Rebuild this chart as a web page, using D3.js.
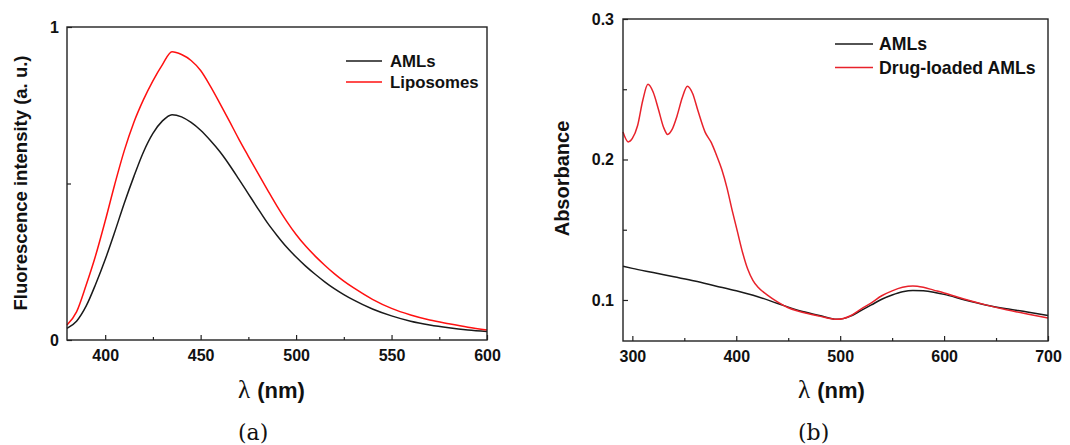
<!DOCTYPE html>
<html><head><meta charset="utf-8">
<script src="https://cdn.jsdelivr.net/npm/d3@7"></script>
<style>
html,body{margin:0;padding:0;background:#fff;}
</style></head>
<body><svg id="c" width="1070" height="445" font-family="'Liberation Sans',Arial,sans-serif"></svg>
<script>
// ---- Panel (a): fluorescence ----
const flWavelength = [380,385,390,395,400,405,410,415,420,425,430,435,440,445,450,455,460,465,470,475,480,485,490,495,500,505,510,515,520,525,530,540,550,560,570,580,590,600];
const flAMLs = [0.037,0.060,0.108,0.178,0.257,0.345,0.437,0.522,0.600,0.660,0.700,0.720,0.713,0.695,0.670,0.638,0.602,0.560,0.514,0.467,0.420,0.374,0.334,0.297,0.265,0.236,0.210,0.186,0.164,0.145,0.128,0.099,0.077,0.060,0.048,0.039,0.032,0.027];
const flLiposomes = [0.048,0.090,0.175,0.270,0.380,0.497,0.605,0.695,0.767,0.828,0.880,0.921,0.912,0.893,0.861,0.812,0.757,0.700,0.642,0.587,0.533,0.480,0.428,0.380,0.337,0.300,0.268,0.239,0.212,0.188,0.167,0.130,0.101,0.080,0.064,0.052,0.041,0.032];
const flXTicks = [400,450,500,550,600];
const flXMinor = [425,475,525,575];
const flYTicks = [0,1];
const flYMinor = [0.5];
const flLegend = ["AMLs","Liposomes"];

// ---- Panel (b): absorbance ----
const abWlAMLs = [291,300,320,340,360,380,400,420,440,460,480,497,510,520,530,540,550,560,570,580,590,600,620,640,660,680,700];
const abAMLs = [0.1240,0.1225,0.1195,0.1165,0.1135,0.1100,0.1065,0.1025,0.0975,0.0925,0.0890,0.0862,0.0885,0.0925,0.0965,0.1005,0.1035,0.1058,0.1068,0.1065,0.1055,0.1040,0.1000,0.0965,0.0938,0.0915,0.0890];
const abWlDrug = [291,296,300,305,310,315,320,325,330,334,338,343,348,353,358,363,370,376,381,386,391,396,401,406,411,416,421,430,440,450,460,480,497,510,520,530,540,550,560,570,580,590,600,620,640,660,680,700];
const abDrug = [0.2195,0.2125,0.2150,0.2240,0.2420,0.2535,0.2480,0.2360,0.2230,0.2178,0.2210,0.2310,0.2440,0.2522,0.2470,0.2350,0.2195,0.2120,0.2030,0.1930,0.1800,0.1640,0.1490,0.1340,0.1220,0.1140,0.1090,0.1035,0.0985,0.0945,0.0920,0.0885,0.0862,0.0888,0.0935,0.0980,0.1030,0.1065,0.1090,0.1100,0.1090,0.1070,0.1050,0.1005,0.0965,0.0930,0.0900,0.0872];
const abXTicks = [300,400,500,600,700];
const abXMinor = [350,450,550,650];
const abYTicks = [0.1,0.2,0.3];
const abYMinor = [0.15,0.25];
const abLegend = ["AMLs","Drug-loaded AMLs"];

const svg = d3.select("#c");
const SANS = "'Liberation Sans',Arial,sans-serif";
const SERIF = "'DejaVu Serif','Liberation Serif',serif";

function panel(o){
  const g = svg.append("g");
  const x = d3.scaleLinear().domain(o.xd).range([o.l,o.r]);
  const y = d3.scaleLinear().domain(o.yd).range([o.b,o.t]);
  const axisCol = "#222";
  g.append("g").attr("transform",`translate(0,${o.b})`)
    .call(d3.axisBottom(x).tickValues(o.xt).tickSizeInner(-5).tickSizeOuter(0).tickPadding(o.xpad).tickFormat(d3.format("d")));
  g.append("g").attr("transform",`translate(0,${o.b})`)
    .call(d3.axisBottom(x).tickValues(o.xm).tickSizeInner(-3).tickSizeOuter(0).tickFormat(""));
  g.append("g").attr("transform",`translate(${o.l},0)`)
    .call(d3.axisLeft(y).tickValues(o.yt).tickSizeInner(-5).tickSizeOuter(0).tickPadding(o.ypad).tickFormat(o.yf));
  g.append("g").attr("transform",`translate(${o.l},0)`)
    .call(d3.axisLeft(y).tickValues(o.ym).tickSizeInner(-4).tickSizeOuter(0).tickFormat(""));
  g.selectAll(".domain").remove();
  g.selectAll("g").attr("font-family",null).attr("font-size",null);
  g.selectAll(".tick line").attr("stroke",axisCol).attr("stroke-width",1.2);
  g.selectAll(".tick text").style("font-family",SANS).style("font-size","16px").style("font-weight","bold").attr("fill","#111");
  const line = d3.line().x(d=>x(d[0])).y(d=>y(d[1])).curve(d3.curveMonotoneX);
  o.series.forEach(s=>{
    g.append("path").datum(d3.zip(s.x,s.y)).attr("d",line)
      .attr("fill","none").attr("stroke",s.c).attr("stroke-width",1.5);
  });
  g.append("rect").attr("x",o.l).attr("y",o.t).attr("width",o.r-o.l).attr("height",o.b-o.t)
    .attr("fill","none").attr("stroke",axisCol).attr("stroke-width",1.4);
  o.series.forEach((s,i)=>{
    const ly0 = o.leg.y + i*o.leg.dy;
    g.append("line").attr("x1",o.leg.x1).attr("x2",o.leg.x2).attr("y1",ly0).attr("y2",ly0)
      .attr("stroke",s.c).attr("stroke-width",1.5);
    g.append("text").attr("x",o.leg.tx).attr("y",ly0).attr("dy","0.36em")
      .style("font-family",SANS).style("font-size",o.leg.fs+"px").style("font-weight","bold").attr("fill","#111").text(o.legText[i]);
  });
  const xl = g.append("text").attr("x",o.xlx).attr("y",398).attr("text-anchor","start")
    .style("font-family",SANS).style("font-size","22px").attr("fill","#111");
  xl.append("tspan").style("font-family","'Liberation Serif','DejaVu Serif',serif").style("font-size","25px").text("λ");
  xl.append("tspan").style("font-weight","bold").attr("dx",7).text("(nm)");
  g.append("text").attr("transform",`translate(${o.ylx},${o.yly}) rotate(-90)`)
    .attr("text-anchor","middle").style("font-family",SANS).style("font-size",o.ylfs+"px").style("font-weight","bold").attr("fill","#111").text(o.ylab);
  g.append("text").attr("x",o.xlx).attr("y",440).attr("text-anchor","start")
    .style("font-family",SERIF).style("font-size","22px").attr("fill","#111").text(o.cap);
}

panel({
  xd:[380,600], yd:[0,1], l:67, r:487, t:27, b:340, xpad:9.5, ypad:8,
  xt:flXTicks, xm:flXMinor, yt:flYTicks, ym:flYMinor, yf:d3.format("d"),
  series:[{x:flWavelength,y:flAMLs,c:"#1a1a1a"},{x:flWavelength,y:flLiposomes,c:"#ff1010"}],
  legText:flLegend, leg:{x1:346,x2:382,tx:390,y:61,dy:21,fs:16.8},
  xlx:238, ylab:"Fluorescence intensity (a. u.)", ylx:27, yly:183, ylfs:18.5, cap:"(a)"
});

panel({
  xd:[291,700], yd:[0.0708,0.3], l:623, r:1048, t:19, b:341, xpad:10, ypad:9,
  xt:abXTicks, xm:abXMinor, yt:abYTicks, ym:abYMinor, yf:d3.format(".1f"),
  series:[{x:abWlAMLs,y:abAMLs,c:"#1a1a1a"},{x:abWlDrug,y:abDrug,c:"#e8222b"}],
  legText:abLegend, leg:{x1:835,x2:873,tx:879,y:44,dy:23.4,fs:17.7},
  xlx:798, ylab:"Absorbance", ylx:569, yly:178.5, ylfs:20, cap:"(b)"
});
</script></body></html>
